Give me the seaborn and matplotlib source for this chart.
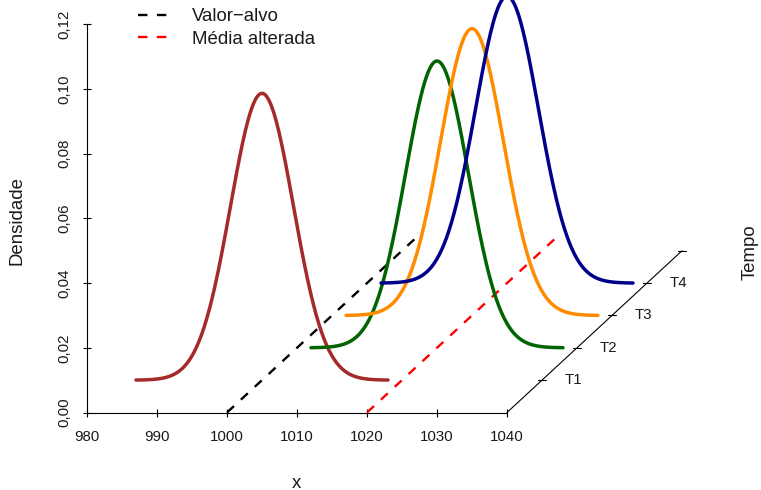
import numpy as np
import pandas as pd
import matplotlib
matplotlib.use("Agg")
import matplotlib.pyplot as plt
from matplotlib.lines import Line2D
import seaborn as sns

# ---- data ----
tempos = ["T1", "T2", "T3", "T4"]
depth_levels = [1, 2, 3, 4]
means = [1000, 1020, 1020, 1020]
sd_value = 4.5
curve_colors = ["#A52A2A", "#006400", "#FF8C00", "#00008B"]
x_ticks = [980, 990, 1000, 1010, 1020, 1030, 1040]
y_ticks = [0.00, 0.02, 0.04, 0.06, 0.08, 0.10, 0.12]
y_tick_labels = ["0,00", "0,02", "0,04", "0,06", "0,08", "0,10", "0,12"]
target_value = 1000
shifted_mean = 1020
ref_line_depths = [0, 5.4]
depth_axis_ticks = [1, 2, 3, 4, 5]
legend_labels = ["Valor\u2212alvo", "M\u00e9dia alterada"]

# pseudo-3D projection (scatterplot3d-like): each depth unit shifts x and y
x_shift_per_depth = 5.0
y_shift_per_depth = 0.01

sns.set_theme(style="white")
plt.rcParams["font.family"] = ["Liberation Sans", "DejaVu Sans"]

W, H, DPI = 761, 490, 100
fig = plt.figure(figsize=(W / DPI, H / DPI), dpi=DPI)

# axes placement in pixels
x0_px, px_per_x = 87.0, 7.0
y0_px, px_per_y = 412.5, 3235.0
right_px = 700.0
ax = fig.add_axes([x0_px / W, (H - y0_px) / H, (right_px - x0_px) / W, y0_px / H])
ax.set_xlim(980, 980 + (right_px - x0_px) / px_per_x)
ax.set_ylim(0, y0_px / px_per_y)
ax.set_facecolor("none")

# build projected density curves
rows = []
for t, d, m in zip(tempos, depth_levels, means):
    xs = np.linspace(m - 4 * sd_value, m + 4 * sd_value, 300)
    dens = np.exp(-0.5 * ((xs - m) / sd_value) ** 2) / (sd_value * np.sqrt(2 * np.pi))
    for xv, yv in zip(xs, dens):
        rows.append({"tempo": t, "x": xv + d * x_shift_per_depth,
                     "dens": yv + d * y_shift_per_depth})
df = pd.DataFrame(rows)

# reference dashed lines (drawn in depth direction from y=0)
for val, col in [(target_value, "black"), (shifted_mean, "red")]:
    lx = [val + dd * x_shift_per_depth for dd in ref_line_depths]
    ly = [dd * y_shift_per_depth for dd in ref_line_depths]
    ax.plot(lx, ly, color=col, lw=1.7, linestyle=(0, (4, 4)), zorder=2)

sns.lineplot(data=df, x="x", y="dens", hue="tempo", palette=curve_colors,
             estimator=None, sort=False, lw=2.5, legend=False, ax=ax, zorder=3)

# depth (Tempo) axis
xe = 1040
ax.plot([xe, xe + max(depth_axis_ticks) * x_shift_per_depth],
        [0, max(depth_axis_ticks) * y_shift_per_depth],
        color="black", lw=0.8, clip_on=False, zorder=4)
half = 4.0 / px_per_x
for d in depth_axis_ticks:
    cx = xe + d * x_shift_per_depth
    cy = d * y_shift_per_depth
    ax.plot([cx - half, cx + half], [cy, cy], color="black", lw=0.8,
            clip_on=False, zorder=4)
for t, d in zip(tempos, depth_levels):
    ax.text(xe + d * x_shift_per_depth + 22.5 / px_per_x, d * y_shift_per_depth, t,
            ha="left", va="center", fontsize=10.8, color="#1a1a1a")

# axes styling
for s in ["top", "right"]:
    ax.spines[s].set_visible(False)
for s in ["left", "bottom"]:
    ax.spines[s].set_color("black")
    ax.spines[s].set_linewidth(0.8)
ax.spines["left"].set_bounds(0, 0.12)
ax.spines["bottom"].set_bounds(980, 1040)
ax.set_xticks(x_ticks)
ax.set_xticklabels([str(v) for v in x_ticks])
ax.set_yticks(y_ticks)
ax.set_yticklabels(y_tick_labels)
ax.tick_params(axis="both", which="major", bottom=True, left=True,
               direction="inout", length=5.5, width=0.8,
               colors="black", labelsize=10.8, labelcolor="#1a1a1a")
ax.tick_params(axis="x", pad=9.5)
ax.tick_params(axis="y", pad=8.5, labelrotation=90)
for lab in ax.get_yticklabels():
    lab.set_va("center")
ax.set_xlabel("")
ax.set_ylabel("")
ax.grid(False)

# axis titles
fig.text(296 / W, 1 - 483 / H, "x", ha="center", va="center", fontsize=13.4, color="#1a1a1a")
fig.text(17 / W, 1 - 220 / H, "Densidade", ha="center", va="center", rotation=90,
         fontsize=13.4, color="#1a1a1a")
fig.text(750 / W, 1 - 252 / H, "Tempo", ha="center", va="center", rotation=90,
         fontsize=13.4, color="#1a1a1a")

# legend
handles = [Line2D([], [], color="black", lw=1.7, linestyle=(0, (4, 4))),
           Line2D([], [], color="red", lw=1.7, linestyle=(0, (4, 4)))]
leg = fig.legend(handles, legend_labels, loc="upper left",
                 bbox_to_anchor=(138 / W, 1 - 8 / H), frameon=False,
                 fontsize=13.4, handlelength=1.6, handletextpad=1.3,
                 labelspacing=0.32, borderaxespad=0, borderpad=0)
for txt in leg.get_texts():
    txt.set_color("#1a1a1a")

fig.savefig("out.png", dpi=DPI)
